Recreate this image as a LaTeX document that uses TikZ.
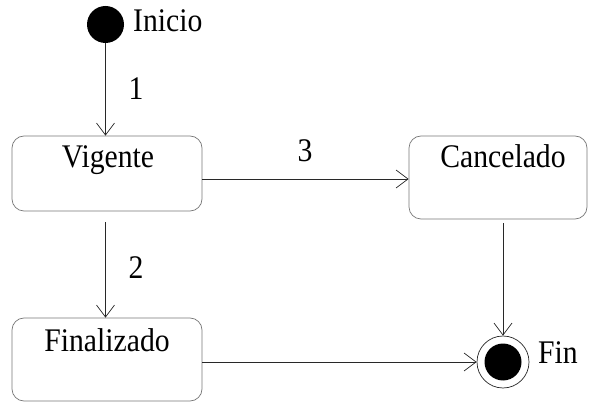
\documentclass[tikz,border=0pt]{standalone}
\usepackage{fontspec}
\setmainfont[FakeStretch=0.9]{Liberation Serif}
\usetikzlibrary{arrows.meta, positioning}
\definecolor{colLine}{RGB}{40,40,40}
\definecolor{colBox}{RGB}{120,120,120}

\begin{document}
\begin{tikzpicture}[
  x=1pt, y=-1pt,
  state/.style={rectangle, draw=colBox, rounded corners=12pt, line width=0.7pt,
                minimum width=190pt, minimum height=83pt},
  lbl/.style={font=\fontsize{33}{33}\selectfont, inner sep=0pt, anchor=base},
  arr/.style={-{Straight Barb[length=12pt, width=18pt]}, draw=colLine, line width=0.7pt},
]
\useasboundingbox (0,0) rectangle (589,403);

% pseudo-states
\node[circle, fill=black, minimum size=37pt, inner sep=0pt] (ini) at (105.5,24.5) {};
\node[lbl, anchor=base west] (tini) at (133,32) {Inicio};
\node[circle, draw=colLine, line width=0.7pt, minimum size=52pt, inner sep=0pt] (fin) at (503,362) {};
\node[circle, fill=black, minimum size=37pt, inner sep=0pt] (finin) at (fin) {};
\node[lbl, anchor=base west] (tfin) at (538,363) {Fin};

% states
\node[state, minimum height=75pt] (vig) at (107,173.5) {};
\node[lbl] (tvig) at (108,168) {Vigente};
\node[state, minimum width=178pt] (can) at (498,177.5) {};
\node[lbl] (tcan) at (503,168) {Cancelado};
\node[state] (finz) at (107,359.5) {};
\node[lbl] (tfinz) at (107,352) {Finalizado};

% transitions
\draw[arr] (ini.south) -- (ini.south |- vig.north);
\node[lbl] (t1) at (136,100) {1};
\draw[arr, shorten <=11pt] (ini.south |- vig.south) -- (ini.south |- finz.north);
\node[lbl] (t2) at (136,279) {2};
\draw[arr] ([yshift=-5.5pt]vig.east) -- ([yshift=-5.5pt]vig.east -| can.west);
\node[lbl] (t3) at (305,162) {3};
\draw[arr, shorten <=4pt] (fin.north |- can.south) -- (fin.north);
\draw[arr] (finz.east |- fin.west) -- (fin.west);

\end{tikzpicture}
\end{document}
